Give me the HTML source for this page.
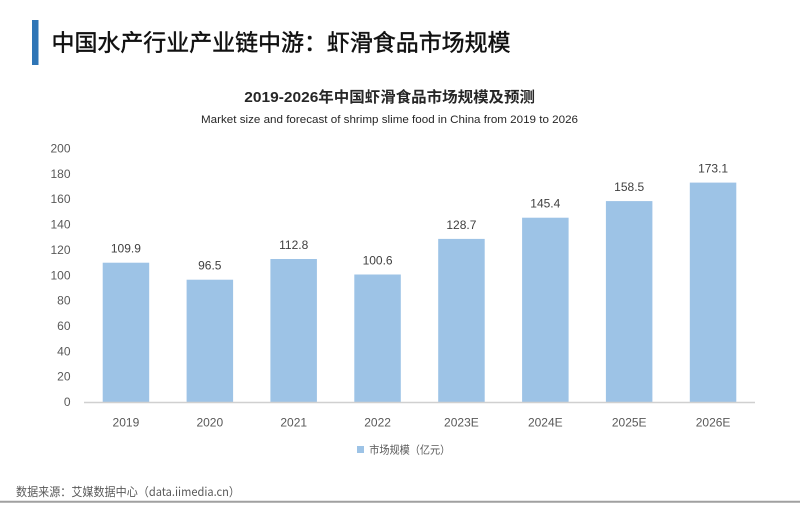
<!DOCTYPE html>
<html>
<head>
<meta charset="utf-8">
<style>
html,body{margin:0;padding:0;background:#fff;}
svg{display:block;}
text{font-family:"Liberation Sans","Noto Sans CJK SC",sans-serif;}
.cjk{font-family:"Noto Sans CJK SC","Liberation Sans",sans-serif;}
</style>
</head>
<body>
<svg width="800" height="520" viewBox="0 0 800 520" xmlns="http://www.w3.org/2000/svg">
<rect width="800" height="520" fill="#ffffff"/>
<!-- header -->
<rect x="32" y="20" width="6.5" height="45" fill="#2e75b6"/>
<text class="cjk" x="51.5" y="40.5" dominant-baseline="central" font-size="23" fill="#111" stroke="#111" stroke-width="0.45" textLength="459" lengthAdjust="spacingAndGlyphs">中国水产行业产业链中游：虾滑食品市场规模</text>

<!-- chart titles -->
<text x="244.3" y="97.7" dominant-baseline="central" font-size="15" font-weight="bold" fill="#262626" textLength="290.7" lengthAdjust="spacingAndGlyphs">2019-2026年中国虾滑食品市场规模及预测</text>
<text x="201" y="120" dominant-baseline="central" font-size="11" fill="#262626" textLength="377" lengthAdjust="spacingAndGlyphs">Market size and forecast of shrimp slime food in China from 2019 to 2026</text>

<!-- y ticks -->
<g font-size="12" fill="#595959" text-anchor="end" dominant-baseline="central">
<text x="70.5" y="402">0</text>
<text x="70.5" y="376.6">20</text>
<text x="70.5" y="351.3">40</text>
<text x="70.5" y="326">60</text>
<text x="70.5" y="300.6">80</text>
<text x="70.5" y="275.3">100</text>
<text x="70.5" y="249.9">120</text>
<text x="70.5" y="224.6">140</text>
<text x="70.5" y="199.2">160</text>
<text x="70.5" y="173.9">180</text>
<text x="70.5" y="148.5">200</text>
</g>

<!-- bars -->
<g fill="#9dc3e6">
<rect x="102.7" y="262.7" width="46.5" height="139.3"/>
<rect x="186.6" y="279.7" width="46.5" height="122.3"/>
<rect x="270.4" y="259.0" width="46.5" height="143.0"/>
<rect x="354.3" y="274.5" width="46.5" height="127.5"/>
<rect x="438.2" y="238.9" width="46.5" height="163.1"/>
<rect x="522.1" y="217.7" width="46.5" height="184.3"/>
<rect x="605.9" y="201.1" width="46.5" height="200.9"/>
<rect x="689.8" y="182.6" width="46.5" height="219.4"/>
</g>

<!-- data labels -->
<g font-size="12" fill="#404040" text-anchor="middle" dominant-baseline="central">
<text x="125.9" y="248.7">109.9</text>
<text x="209.8" y="265.7">96.5</text>
<text x="293.7" y="245.0">112.8</text>
<text x="377.6" y="260.5">100.6</text>
<text x="461.4" y="224.9">128.7</text>
<text x="545.3" y="203.7">145.4</text>
<text x="629.2" y="187.1">158.5</text>
<text x="713.1" y="168.4">173.1</text>
</g>

<!-- axis -->
<line x1="84" y1="402.5" x2="755" y2="402.5" stroke="#d0d0d0" stroke-width="1.5"/>

<!-- x labels -->
<g font-size="12" fill="#595959" text-anchor="middle" dominant-baseline="central">
<text x="125.9" y="422.7">2019</text>
<text x="209.8" y="422.7">2020</text>
<text x="293.7" y="422.7">2021</text>
<text x="377.6" y="422.7">2022</text>
<text x="461.4" y="422.7">2023E</text>
<text x="545.3" y="422.7">2024E</text>
<text x="629.2" y="422.7">2025E</text>
<text x="713.1" y="422.7">2026E</text>
</g>

<!-- legend -->
<rect x="357" y="446" width="7" height="7" fill="#9dc3e6"/>
<text class="cjk" x="369.3" y="449.5" dominant-baseline="central" font-size="11" fill="#595959" textLength="81" lengthAdjust="spacingAndGlyphs">市场规模（亿元）</text>

<!-- source -->
<text class="cjk" x="16" y="491.7" dominant-baseline="central" font-size="12" fill="#595959" textLength="224" lengthAdjust="spacingAndGlyphs">数据来源：艾媒数据中心（data.iimedia.cn）</text>
<line x1="0" y1="501.7" x2="800" y2="501.7" stroke="#a0a0a0" stroke-width="2"/>
</svg>
</body>
</html>
